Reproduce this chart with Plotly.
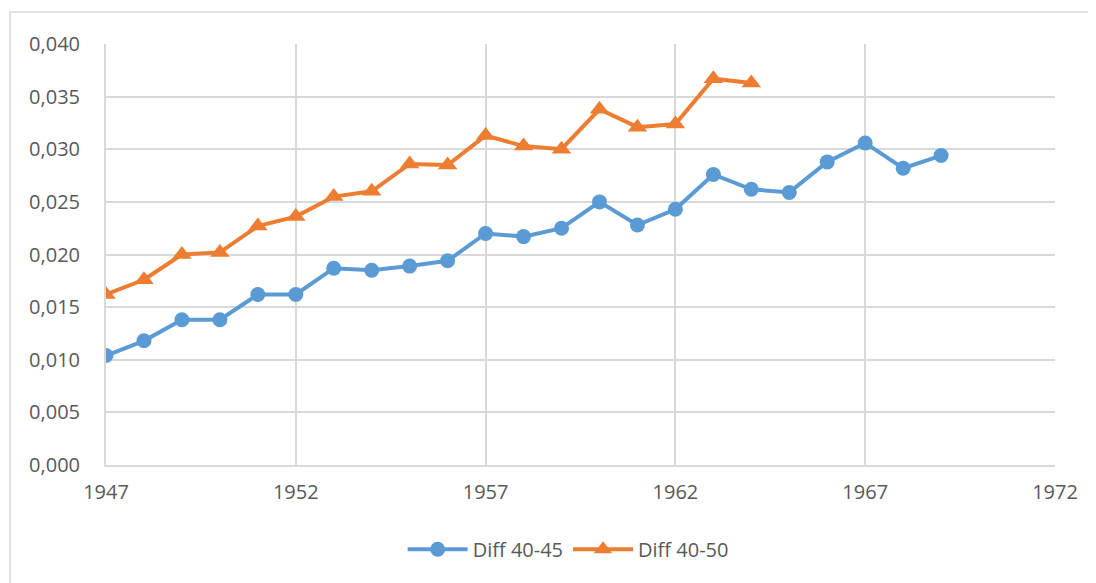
import plotly.graph_objects as go

years_a = list(range(1947, 1970))
diff_40_45 = [0.0104, 0.0118, 0.0138, 0.0138, 0.0162, 0.0162, 0.0187, 0.0185, 0.0189, 0.0194,
              0.0220, 0.0217, 0.0225, 0.0250, 0.0228, 0.0243, 0.0276, 0.0262, 0.0259, 0.0288,
              0.0306, 0.0282, 0.0294]
years_b = list(range(1947, 1965))
diff_40_50 = [0.0162, 0.0176, 0.0200, 0.0202, 0.0227, 0.0236, 0.0255, 0.0260, 0.0286, 0.0285,
              0.0313, 0.0303, 0.0300, 0.0338, 0.0321, 0.0324, 0.0367, 0.0363]

x_ticks = [1947, 1952, 1957, 1962, 1967, 1972]
y_ticks = [0, 0.005, 0.010, 0.015, 0.020, 0.025, 0.030, 0.035, 0.040]

BLUE = "#5B9BD5"
ORANGE = "#ED7D31"
GRID = "#D9D9D9"
TXT = "#595959"

fig = go.Figure()
fig.add_trace(go.Scatter(x=years_a, y=diff_40_45, name="Diff 40-45", mode="lines+markers",
                         line=dict(color=BLUE, width=4),
                         marker=dict(symbol="circle", size=15, color=BLUE)))
fig.add_trace(go.Scatter(x=years_b, y=diff_40_50, name="Diff 40-50", mode="lines+markers",
                         line=dict(color=ORANGE, width=4),
                         marker=dict(symbol="triangle-up", size=17, color=ORANGE)))

# plot area target: x 106..1055, y 44..465 (page has 8px body offset)
fig.update_layout(
    width=1088, height=575,
    margin=dict(l=98, r=41, t=36, b=118),
    paper_bgcolor="white", plot_bgcolor="white",
    separators=",.",
    font=dict(family="Open Sans, Liberation Sans, sans-serif", size=20, color=TXT),
    legend=dict(orientation="h", x=0.487, y=-0.2, xanchor="center", yanchor="middle",
                font=dict(size=20, color=TXT), itemwidth=60),
    showlegend=True,
    shapes=[dict(type="rect", xref="paper", yref="paper",
                 x0=(10 - 106) / 949, x1=1.06, y0=-0.35, y1=(465 - 12) / 421,
                 line=dict(color="#D9D9D9", width=1.5), fillcolor="rgba(0,0,0,0)", layer="below")],
)
fig.update_xaxes(range=[1947, 1972], tickvals=x_ticks, ticktext=[str(v) for v in x_ticks],
                 showgrid=True, gridcolor=GRID, gridwidth=2, zeroline=False,
                 showline=True, linecolor=GRID, linewidth=2, ticks="", ticklabelstandoff=8)
fig.update_yaxes(range=[0, 0.040], tickvals=y_ticks, tickformat=".3f",
                 showgrid=True, gridcolor=GRID, gridwidth=2, zeroline=False,
                 showline=True, linecolor=GRID, linewidth=2, ticks="", ticklabelstandoff=20)

fig.write_html("out.html")
